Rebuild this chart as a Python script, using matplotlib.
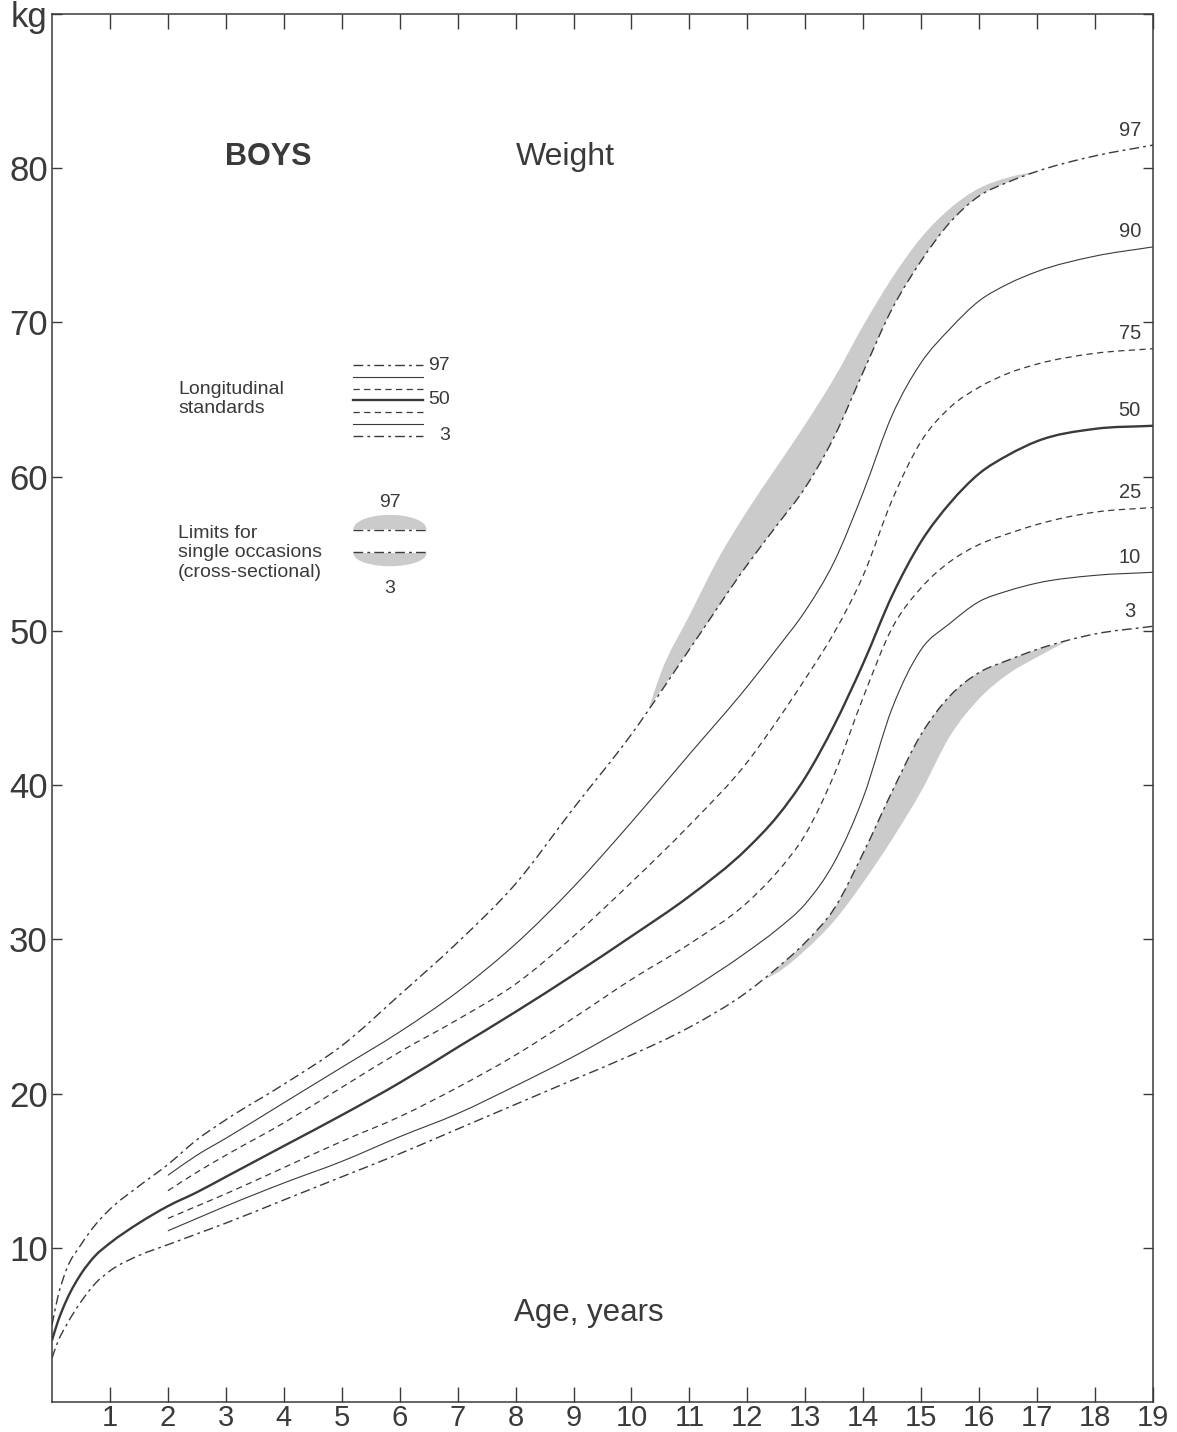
import matplotlib

matplotlib.use("Agg")
import matplotlib.pyplot as plt
import numpy as np
from matplotlib.patches import PathPatch
from matplotlib.path import Path

plt.rcParams["font.family"] = ["Liberation Sans", "DejaVu Sans"]

INK = "#3a3a3a"
SHADE = "#cbcbcb"

# ages (years)
AGE_FULL = [0, 0.1, 0.25, 0.5, 0.75, 1, 1.5, 2, 2.5, 3, 4, 5, 6, 7, 8, 9, 10,
            11, 12, 12.5, 13, 13.5, 14, 14.5, 15, 15.5, 16, 16.5, 17, 18, 19]
AGE_FROM2 = [2, 2.5, 3, 4, 5, 6, 7, 8, 9, 10, 11, 12, 12.5, 13, 13.5, 14,
             14.5, 15, 15.5, 16, 16.5, 17, 18, 19]

# weight (kg) per longitudinal percentile
P97 = [5.0, 6.8, 8.6, 10.2, 11.5, 12.5, 14.0, 15.4, 17.0, 18.3, 20.6, 23.1,
       26.4, 29.8, 33.6, 38.5, 43.3, 48.8, 54.3, 56.8, 59.3, 62.6, 66.8, 70.9,
       74.0, 76.5, 78.2, 79.1, 79.8, 80.8, 81.5]
P50 = [4.0, 5.2, 6.6, 8.3, 9.5, 10.3, 11.6, 12.7, 13.6, 14.6, 16.6, 18.6,
       20.7, 23.0, 25.3, 27.7, 30.2, 32.8, 35.9, 37.9, 40.5, 43.9, 47.9, 52.3,
       55.8, 58.3, 60.2, 61.4, 62.3, 63.1, 63.3]
P3 = [2.85, 3.9, 5.0, 6.5, 7.7, 8.5, 9.5, 10.2, 10.9, 11.6, 13.1, 14.6, 16.1,
      17.7, 19.3, 20.9, 22.5, 24.3, 26.6, 28.1, 29.8, 32.0, 35.6, 39.6, 43.3,
      45.8, 47.3, 48.1, 48.8, 49.8, 50.3]
P90 = [14.7, 16.0, 17.1, 19.4, 21.7, 24.0, 26.6, 29.7, 33.4, 37.6, 42.0, 46.4,
       48.8, 51.3, 54.5, 59.0, 64.0, 67.4, 69.6, 71.4, 72.5, 73.3, 74.3, 74.9]
P75 = [13.7, 14.9, 16.0, 18.1, 20.4, 22.7, 24.8, 27.1, 30.2, 33.7, 37.4, 41.5,
       44.1, 46.9, 49.9, 53.6, 58.5, 62.3, 64.5, 65.8, 66.7, 67.3, 68.0, 68.3]
P25 = [11.9, 12.7, 13.5, 15.2, 16.9, 18.5, 20.4, 22.5, 24.9, 27.4, 29.7, 32.4,
       34.3, 36.8, 40.7, 45.7, 50.2, 52.8, 54.5, 55.6, 56.3, 56.9, 57.7, 58.0]
P10 = [11.1, 11.9, 12.7, 14.2, 15.6, 17.2, 18.7, 20.5, 22.4, 24.5, 26.7, 29.2,
       30.6, 32.3, 35.0, 39.2, 45.0, 48.8, 50.5, 51.9, 52.6, 53.1, 53.6, 53.8]

# limits for single occasions (cross-sectional)
UPPER_AGE = [10.3, 10.5, 11, 11.5, 12, 12.5, 13, 13.5, 14, 14.5, 15, 15.5,
             16, 16.5, 17]
UPPER_EDGE = [45.0, 47.2, 51.0, 54.7, 57.8, 60.6, 63.4, 66.4, 69.8, 72.9,
              75.5, 77.4, 78.7, 79.4, 79.8]
LOWER_AGE = [12.3, 12.5, 13, 13.5, 14, 14.5, 15, 15.5, 16, 16.5, 17, 17.5]
LOWER_EDGE = [27.4, 27.8, 29.3, 31.2, 33.7, 36.5, 39.6, 43.2, 45.6, 47.2,
              48.3, 49.3]

DASHDOT = (0, (7, 3, 2, 3))
DASHED = (0, (5, 3.5))


def smooth_verts(xs, ys):
    """Cubic Bezier vertices through the read points (x-monotone Hermite)."""
    xs = np.asarray(xs, float)
    ys = np.asarray(ys, float)
    m = np.gradient(ys, xs)
    verts = [(xs[0], ys[0])]
    for i in range(len(xs) - 1):
        h = xs[i + 1] - xs[i]
        verts += [(xs[i] + h / 3, ys[i] + m[i] * h / 3),
                  (xs[i + 1] - h / 3, ys[i + 1] - m[i + 1] * h / 3),
                  (xs[i + 1], ys[i + 1])]
    return verts


def curve_patch(xs, ys, **kw):
    verts = smooth_verts(xs, ys)
    codes = [Path.MOVETO] + [Path.CURVE4] * (len(verts) - 1)
    return PathPatch(Path(verts, codes), fill=False, **kw)


def band_patch(xa, ya, xb, yb, **kw):
    top = smooth_verts(xa, ya)
    bot = smooth_verts(xb, yb)[::-1]
    verts = top + bot + [top[0]]
    codes = ([Path.MOVETO] + [Path.CURVE4] * (len(top) - 1) + [Path.LINETO]
             + [Path.CURVE4] * (len(bot) - 1) + [Path.CLOSEPOLY])
    return PathPatch(Path(verts, codes), **kw)


fig = plt.figure(figsize=(11.77, 14.32), dpi=100)
ax = fig.add_axes([52 / 1177, 1 - 1402 / 1432, 1101 / 1177, 1388 / 1432])

# shaded single-occasion limits, bounded by the 97th / 3rd lines
a97 = np.asarray(AGE_FULL)
in_up = (a97 > UPPER_AGE[0]) & (a97 < UPPER_AGE[-1])
base_x = [UPPER_AGE[0]] + list(a97[in_up]) + [UPPER_AGE[-1]]
base_y = [UPPER_EDGE[0]] + list(np.asarray(P97)[in_up]) + [UPPER_EDGE[-1]]
ax.add_patch(band_patch(UPPER_AGE, UPPER_EDGE, base_x, base_y,
                        facecolor=SHADE, edgecolor="none", zorder=1))
in_lo = (a97 > LOWER_AGE[0]) & (a97 < LOWER_AGE[-1])
base_x = [LOWER_AGE[0]] + list(a97[in_lo]) + [LOWER_AGE[-1]]
base_y = [LOWER_EDGE[0]] + list(np.asarray(P3)[in_lo]) + [LOWER_EDGE[-1]]
ax.add_patch(band_patch(base_x, base_y, LOWER_AGE, LOWER_EDGE,
                        facecolor=SHADE, edgecolor="none", zorder=1))

curves = [
    (AGE_FULL, P97, DASHDOT, 1.0, "97"),
    (AGE_FROM2, P90, "-", 0.8, "90"),
    (AGE_FROM2, P75, DASHED, 0.9, "75"),
    (AGE_FULL, P50, "-", 1.7, "50"),
    (AGE_FROM2, P25, DASHED, 0.9, "25"),
    (AGE_FROM2, P10, "-", 0.8, "10"),
    (AGE_FULL, P3, DASHDOT, 1.0, "3"),
]
for ages, kg, ls, lw, lab in curves:
    ax.add_patch(curve_patch(ages, kg, edgecolor=INK, linestyle=ls,
                             linewidth=lw, zorder=2))
    ax.text(18.6, kg[-1] + 0.35, lab, ha="center", va="bottom",
            fontsize=14.5, color=INK)

ax.set_xlim(0, 19)
ax.set_ylim(0, 90)
ax.set_xticks(range(1, 20))
ax.set_xticklabels([str(i) for i in range(1, 20)])
ax.set_yticks(range(10, 91, 10))
ax.set_yticklabels([str(v) for v in range(10, 90, 10)] + ["kg"])
ax.tick_params(axis="x", direction="in", top=True, bottom=True, length=11,
               width=1.0, color=INK, labelsize=21, labelcolor=INK, pad=1.5)
ax.tick_params(axis="y", direction="in", left=True, right=True, length=7,
               width=1.0, color=INK, labelsize=25, labelcolor=INK, pad=3)
for s in ax.spines.values():
    s.set_color(INK)
    s.set_linewidth(1.1)

# headings
ax.text(0.196, 0.897, "BOYS", transform=ax.transAxes, ha="center",
        va="center", fontsize=22, fontweight="bold", color=INK)
ax.text(0.466, 0.897, "Weight", transform=ax.transAxes, ha="center",
        va="center", fontsize=23, color=INK)
ax.text(0.488, 0.064, "Age, years", transform=ax.transAxes, ha="center",
        va="center", fontsize=22.5, color=INK)

# legend: longitudinal standards
ax.text(0.1144, 0.7226, "Longitudinal\nstandards", transform=ax.transAxes,
        ha="left", va="center", fontsize=14, color=INK, linespacing=1.2)
leg_y = [0.747, 0.7385, 0.730, 0.722, 0.713, 0.7046, 0.696]
for (ages, kg, ls, lw, lab), y in zip(curves, leg_y):
    ax.plot([0.273, 0.337], [y, y], transform=ax.transAxes, color=INK,
            ls=ls, lw=lw)
for lab, y, x in [("97", 0.747, 0.3415), ("50", 0.722, 0.3415),
                  ("3", 0.696, 0.352)]:
    ax.text(x, y, lab, transform=ax.transAxes, ha="left", va="center",
            fontsize=14, color=INK)

# legend: single occasions
ax.text(0.1144, 0.6117, "Limits for\nsingle occasions\n(cross-sectional)",
        transform=ax.transAxes, ha="left", va="center", fontsize=14,
        color=INK, linespacing=1.2)
t = np.linspace(-1, 1, 41)
bx = 0.3065 + 0.0335 * t
bump = np.sqrt(1 - t ** 2)
ax.fill_between(bx, 0.6290, 0.6290 + 0.0105 * bump, transform=ax.transAxes,
                color=SHADE, lw=0)
ax.fill_between(bx, 0.6120 - 0.0095 * bump, 0.6120, transform=ax.transAxes,
                color=SHADE, lw=0)
ax.plot([0.273, 0.340], [0.6285, 0.6285], transform=ax.transAxes,
        color=INK, ls=DASHDOT, lw=1.0)
ax.plot([0.273, 0.340], [0.6125, 0.6125], transform=ax.transAxes,
        color=INK, ls=DASHDOT, lw=1.0)
ax.text(0.3065, 0.6480, "97", transform=ax.transAxes, ha="center",
        va="center", fontsize=14, color=INK)
ax.text(0.3065, 0.5860, "3", transform=ax.transAxes, ha="center",
        va="center", fontsize=14, color=INK)

fig.savefig("out.png", dpi=100)
